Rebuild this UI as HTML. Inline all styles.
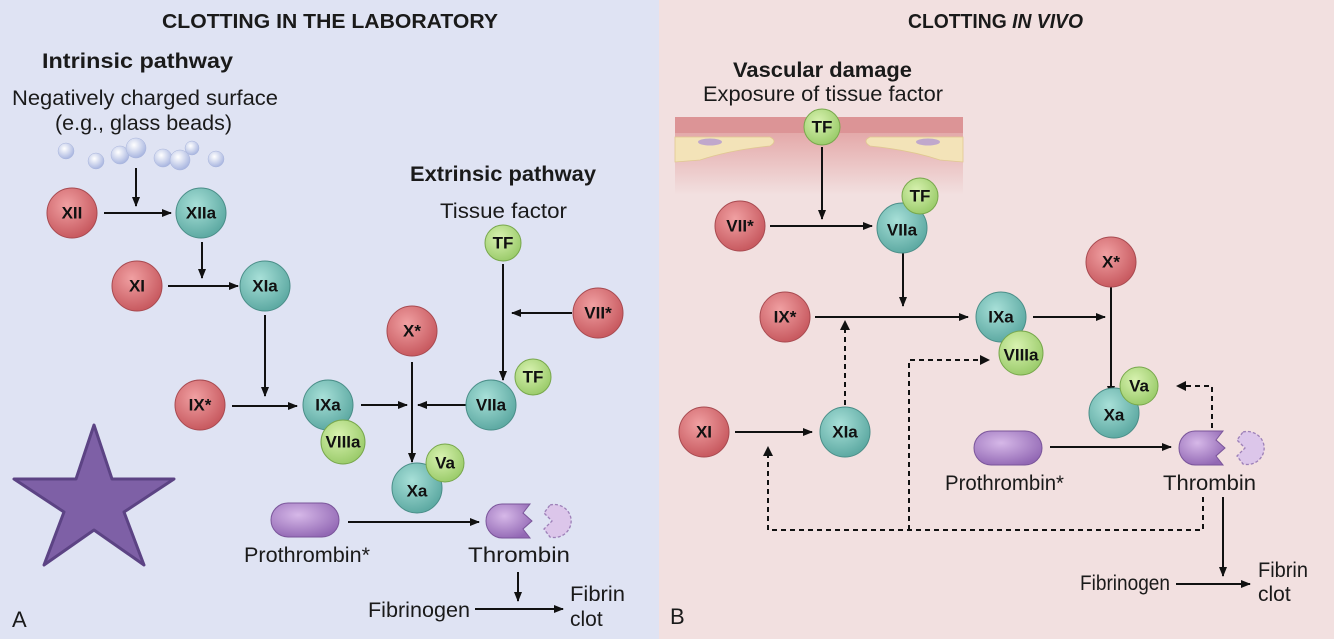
<!DOCTYPE html>
<html><head><meta charset="utf-8"><style>
html,body{margin:0;padding:0;}
body{width:1334px;height:639px;overflow:hidden;font-family:"Liberation Sans",Arial,sans-serif;}
text{font-family:"Liberation Sans",Arial,sans-serif;fill:#1a1a1a;}
.b{font-weight:bold;}
.n{font-weight:bold;font-size:17px;text-anchor:middle;dominant-baseline:central;fill:#111;}
.l{font-size:21px;}
</style></head><body>
<svg width="1334" height="639" viewBox="0 0 1334 639" xmlns="http://www.w3.org/2000/svg">
<defs>
<radialGradient id="gr" cx="40%" cy="35%" r="65%"><stop offset="0" stop-color="#f0a0a2"/><stop offset="1" stop-color="#c85a60"/></radialGradient>
<radialGradient id="gt" cx="40%" cy="35%" r="65%"><stop offset="0" stop-color="#a8e0d8"/><stop offset="1" stop-color="#5eaaa3"/></radialGradient>
<radialGradient id="gg" cx="40%" cy="35%" r="65%"><stop offset="0" stop-color="#d8f2b0"/><stop offset="1" stop-color="#9ccc6c"/></radialGradient>
<radialGradient id="gp" cx="40%" cy="35%" r="70%"><stop offset="0" stop-color="#d6b8e8"/><stop offset="1" stop-color="#9268b4"/></radialGradient>
<radialGradient id="gb" cx="40%" cy="35%" r="65%"><stop offset="0" stop-color="#ffffff"/><stop offset="1" stop-color="#a9b6e0"/></radialGradient>
<linearGradient id="vess" x1="0" y1="0" x2="0" y2="1"><stop offset="0" stop-color="#dd9a9c"/><stop offset="0.3" stop-color="#e6b0b0"/><stop offset="1" stop-color="#f2e0e0"/></linearGradient>
<marker id="ar" markerWidth="10" markerHeight="8" refX="9" refY="4" orient="auto" markerUnits="userSpaceOnUse"><path d="M0,0 L10,4 L0,8 Z" fill="#111"/></marker>
<g id="thr"><path d="M16,0 L44,0 L37,9 L46,17 L37,25 L44,34 L16,34 A16,17 0 0 1 16,0 Z" fill="url(#gp)" stroke="#7a559a" stroke-width="1"/>
<path d="M64,1 A17,16.5 0 1 1 64,33 L58,25 L66,17 L58,9 Z" fill="#dcc6ea" stroke="#9d80b8" stroke-width="1.3" stroke-dasharray="3,2"/></g>
<g id="pro"><rect x="0" y="0" width="68" height="34" rx="17" fill="url(#gp)" stroke="#7a559a" stroke-width="1"/></g>
</defs>
<rect x="0" y="0" width="659" height="639" fill="#dfe3f3"/>
<rect x="659" y="0" width="675" height="639" fill="#f2e0e0"/>

<!-- LEFT -->
<text x="162" y="28" class="b" font-size="20" textLength="336" lengthAdjust="spacingAndGlyphs">CLOTTING IN THE LABORATORY</text>
<text x="42" y="68" class="b" font-size="21" textLength="191" lengthAdjust="spacingAndGlyphs">Intrinsic pathway</text>
<text x="12" y="105" class="l" textLength="266" lengthAdjust="spacingAndGlyphs">Negatively charged surface</text>
<text x="55" y="130" class="l" textLength="177" lengthAdjust="spacingAndGlyphs">(e.g., glass beads)</text>
<g fill="url(#gb)" stroke="#a8b4dc" stroke-width="0.5">
<circle cx="66" cy="151" r="8"/><circle cx="96" cy="161" r="8"/><circle cx="120" cy="155" r="9"/><circle cx="136" cy="148" r="10"/><circle cx="163" cy="158" r="9"/><circle cx="180" cy="160" r="10"/><circle cx="192" cy="148" r="7"/><circle cx="216" cy="159" r="8"/>
</g>
<text x="410" y="181" class="b" font-size="21" textLength="186" lengthAdjust="spacingAndGlyphs">Extrinsic pathway</text>
<text x="440" y="218" class="l" textLength="127" lengthAdjust="spacingAndGlyphs">Tissue factor</text>

<g stroke="#111" stroke-width="2" fill="none" marker-end="url(#ar)">
<line x1="136" y1="168" x2="136" y2="206"/>
<line x1="104" y1="213" x2="171" y2="213"/>
<line x1="202" y1="242" x2="202" y2="278"/>
<line x1="168" y1="286" x2="238" y2="286"/>
<line x1="265" y1="315" x2="265" y2="396"/>
<line x1="232" y1="406" x2="297" y2="406"/>
<line x1="361" y1="405" x2="407" y2="405"/>
<line x1="412" y1="362" x2="412" y2="462"/>
<line x1="470" y1="405" x2="418" y2="405"/>
<line x1="503" y1="264" x2="503" y2="380"/>
<line x1="572" y1="313" x2="512" y2="313"/>
<line x1="348" y1="522" x2="479" y2="522"/>
<line x1="518" y1="572" x2="518" y2="601"/>
<line x1="475" y1="609" x2="563" y2="609"/>
</g>

<circle cx="72" cy="213" r="25" fill="url(#gr)" stroke="#a84a50"/><text x="72" y="213" class="n">XII</text>
<circle cx="201" cy="213" r="25" fill="url(#gt)" stroke="#4a8e88"/><text x="201" y="213" class="n">XIIa</text>
<circle cx="137" cy="286" r="25" fill="url(#gr)" stroke="#a84a50"/><text x="137" y="286" class="n">XI</text>
<circle cx="265" cy="286" r="25" fill="url(#gt)" stroke="#4a8e88"/><text x="265" y="286" class="n">XIa</text>
<circle cx="200" cy="405" r="25" fill="url(#gr)" stroke="#a84a50"/><text x="200" y="405" class="n">IX*</text>
<circle cx="328" cy="405" r="25" fill="url(#gt)" stroke="#4a8e88"/><text x="328" y="405" class="n">IXa</text>
<circle cx="343" cy="442" r="22" fill="url(#gg)" stroke="#78a84c"/><text x="343" y="442" class="n" font-size="15">VIIIa</text>
<circle cx="412" cy="331" r="25" fill="url(#gr)" stroke="#a84a50"/><text x="412" y="331" class="n">X*</text>
<circle cx="417" cy="488" r="25" fill="url(#gt)" stroke="#4a8e88"/><text x="417" y="491" class="n">Xa</text>
<circle cx="445" cy="463" r="19" fill="url(#gg)" stroke="#78a84c"/><text x="445" y="463" class="n">Va</text>
<circle cx="503" cy="243" r="18" fill="url(#gg)" stroke="#78a84c"/><text x="503" y="243" class="n">TF</text>
<circle cx="491" cy="405" r="25" fill="url(#gt)" stroke="#4a8e88"/><text x="491" y="405" class="n">VIIa</text>
<circle cx="533" cy="377" r="18" fill="url(#gg)" stroke="#78a84c"/><text x="533" y="377" class="n">TF</text>
<circle cx="598" cy="313" r="25" fill="url(#gr)" stroke="#a84a50"/><text x="598" y="313" class="n">VII*</text>

<use href="#pro" x="271" y="503"/>
<use href="#thr" x="486" y="504"/>
<text x="244" y="562" class="l" textLength="126" lengthAdjust="spacingAndGlyphs">Prothrombin*</text>
<text x="468" y="562" class="l" textLength="102" lengthAdjust="spacingAndGlyphs">Thrombin</text>
<text x="368" y="617" class="l" textLength="102" lengthAdjust="spacingAndGlyphs">Fibrinogen</text>
<text x="570" y="601" class="l" textLength="55" lengthAdjust="spacingAndGlyphs">Fibrin</text>
<text x="570" y="626" class="l">clot</text>
<polygon points="94,425 112,479 174,479 124,512 144,565 94,530 44,565 64,512 14,479 76,479" fill="#7e60a6" stroke="#5c4384" stroke-width="3" stroke-linejoin="round"/>
<text x="12" y="627" font-size="22">A</text>

<!-- RIGHT -->
<text x="908" y="28" class="b" font-size="20" textLength="175" lengthAdjust="spacingAndGlyphs">CLOTTING <tspan font-style="italic">IN VIVO</tspan></text>
<text x="733" y="77" class="b" font-size="21" textLength="179" lengthAdjust="spacingAndGlyphs">Vascular damage</text>
<text x="703" y="101" class="l" textLength="240" lengthAdjust="spacingAndGlyphs">Exposure of tissue factor</text>
<rect x="675" y="117" width="288" height="78" fill="url(#vess)"/>
<rect x="675" y="117" width="288" height="16" fill="#dc9496"/>
<path d="M675,137 L770,137 Q778,141 770,146 Q730,150 700,160 L675,162 Z" fill="#f3e3b8" stroke="#e0c890" stroke-width="0.8"/>
<ellipse cx="710" cy="142" rx="12" ry="3.5" fill="#c0a8cc"/>
<path d="M963,137 L870,137 Q862,141 870,146 Q910,150 940,160 L963,162 Z" fill="#f3e3b8" stroke="#e0c890" stroke-width="0.8"/>
<ellipse cx="928" cy="142" rx="12" ry="3.5" fill="#c0a8cc"/>

<g stroke="#111" stroke-width="2" fill="none" marker-end="url(#ar)">
<line x1="822" y1="147" x2="822" y2="219"/>
<line x1="770" y1="226" x2="872" y2="226"/>
<line x1="903" y1="252" x2="903" y2="306"/>
<line x1="815" y1="317" x2="968" y2="317"/>
<line x1="1033" y1="317" x2="1105" y2="317"/>
<line x1="1111" y1="287" x2="1111" y2="395"/>
<line x1="735" y1="432" x2="812" y2="432"/>
<line x1="1050" y1="447" x2="1171" y2="447"/>
<line x1="1223" y1="497" x2="1223" y2="576"/>
<line x1="1176" y1="584" x2="1250" y2="584"/>
</g>
<g stroke="#111" stroke-width="2" fill="none" stroke-dasharray="5,4">
<line x1="845" y1="405" x2="845" y2="328"/>
<polyline points="1203,497 1203,530 768,530 768,455"/>
<polyline points="909,530 909,360 982,360"/>
<polyline points="1212,428 1212,386 1184,386"/>
</g>
<g fill="#111">
<path d="M845,320 L840,330 L850,330 Z"/>
<path d="M768,446 L763,456 L773,456 Z"/>
<path d="M990,360 L980,355 L980,365 Z"/>
<path d="M1176,386 L1186,381 L1186,391 Z"/>
</g>

<circle cx="822" cy="127" r="18" fill="url(#gg)" stroke="#78a84c"/><text x="822" y="127" class="n">TF</text>
<circle cx="740" cy="226" r="25" fill="url(#gr)" stroke="#a84a50"/><text x="740" y="226" class="n">VII*</text>
<circle cx="902" cy="228" r="25" fill="url(#gt)" stroke="#4a8e88"/><text x="902" y="230" class="n">VIIa</text>
<circle cx="920" cy="196" r="18" fill="url(#gg)" stroke="#78a84c"/><text x="920" y="196" class="n">TF</text>
<circle cx="785" cy="317" r="25" fill="url(#gr)" stroke="#a84a50"/><text x="785" y="317" class="n">IX*</text>
<circle cx="1001" cy="317" r="25" fill="url(#gt)" stroke="#4a8e88"/><text x="1001" y="317" class="n">IXa</text>
<circle cx="1021" cy="353" r="22" fill="url(#gg)" stroke="#78a84c"/><text x="1021" y="355" class="n" font-size="15">VIIIa</text>
<circle cx="1111" cy="262" r="25" fill="url(#gr)" stroke="#a84a50"/><text x="1111" y="262" class="n">X*</text>
<circle cx="1114" cy="413" r="25" fill="url(#gt)" stroke="#4a8e88"/><text x="1114" y="415" class="n">Xa</text>
<circle cx="1139" cy="386" r="19" fill="url(#gg)" stroke="#78a84c"/><text x="1139" y="386" class="n">Va</text>
<circle cx="704" cy="432" r="25" fill="url(#gr)" stroke="#a84a50"/><text x="704" y="432" class="n">XI</text>
<circle cx="845" cy="432" r="25" fill="url(#gt)" stroke="#4a8e88"/><text x="845" y="432" class="n">XIa</text>

<use href="#pro" x="974" y="431"/>
<use href="#thr" x="1179" y="431"/>
<text x="945" y="490" class="l" textLength="119" lengthAdjust="spacingAndGlyphs">Prothrombin*</text>
<text x="1163" y="490" class="l" textLength="93" lengthAdjust="spacingAndGlyphs">Thrombin</text>
<text x="1080" y="590" class="l" textLength="90" lengthAdjust="spacingAndGlyphs">Fibrinogen</text>
<text x="1258" y="577" class="l" textLength="50" lengthAdjust="spacingAndGlyphs">Fibrin</text>
<text x="1258" y="601" class="l">clot</text>
<text x="670" y="624" font-size="22">B</text>
</svg>
</body></html>
